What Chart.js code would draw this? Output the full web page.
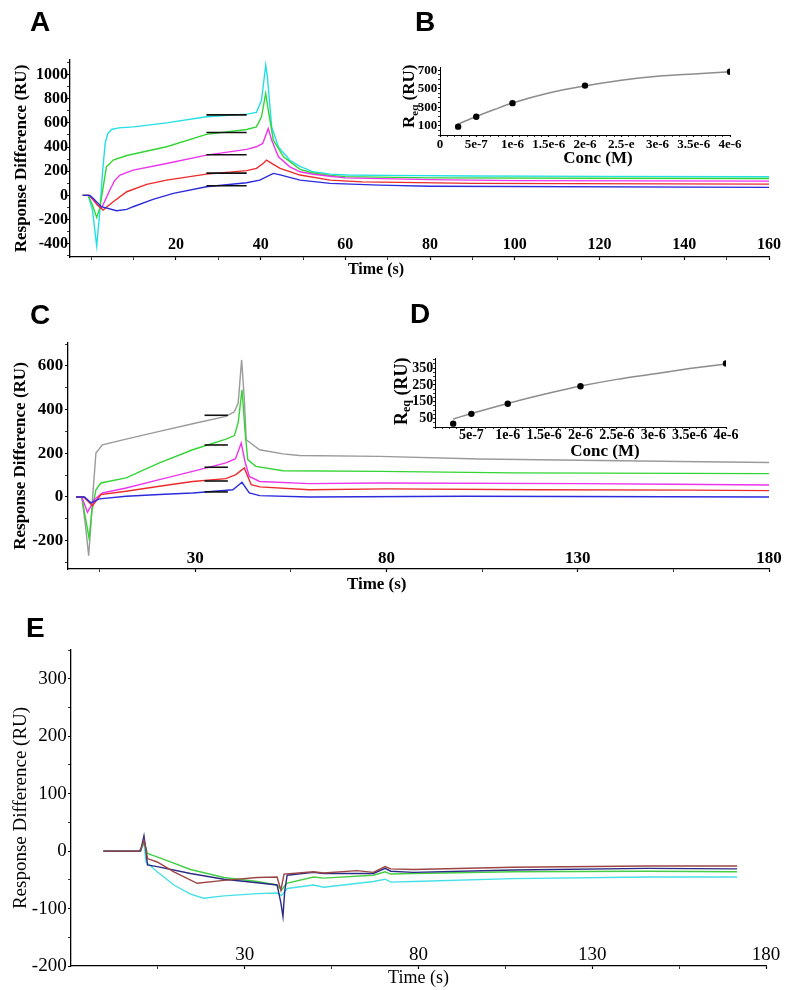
<!DOCTYPE html>
<html>
<head>
<meta charset="utf-8">
<title>SPR sensorgrams and steady-state fits</title>
<script src="https://cdn.jsdelivr.net/npm/chart.js@4.4.1/dist/chart.umd.min.js"></script>
<style>
  html, body { margin:0; padding:0; background:#fff; }
  #fig { position:relative; width:794px; height:990px; overflow:hidden; background:#fff; }
  #fig canvas { position:absolute; }
  .panel { position:absolute; font-family:"Liberation Sans", Arial, sans-serif; font-weight:bold; font-size:28px; line-height:28px; color:#000; }
</style>
</head>
<body>
<div id="fig">
  <canvas id="chartA" width="794" height="290" style="left:0;top:0;width:794px;height:290px"></canvas>
  <canvas id="chartC" width="794" height="310" style="left:0;top:290px;width:794px;height:310px"></canvas>
  <canvas id="chartE" width="794" height="390" style="left:0;top:600px;width:794px;height:390px"></canvas>
  <canvas id="chartB" width="404" height="180" style="left:390px;top:0;width:404px;height:180px"></canvas>
  <canvas id="chartD" width="409" height="130" style="left:385px;top:340px;width:409px;height:130px"></canvas>
  <div class="panel" style="left:30px;top:8px">A</div>
  <div class="panel" style="left:415px;top:8px">B</div>
  <div class="panel" style="left:30px;top:301px">C</div>
  <div class="panel" style="left:410px;top:300px">D</div>
  <div class="panel" style="left:26px;top:614px">E</div>
</div>
<script>
// ================= DATA =================
// Panel A sensorgrams (time s, response RU)
const aCyanT = [-2, -0.7, 0.3, 1.3, 2.0, 2.7, 3.3, 3.9, 4.8, 6.5, 10, 17.8, 27.2, 36.7, 39, 40.2, 41.2, 41.6, 42.6, 44.2, 46.9, 49.3, 52.4, 56.4, 60.3, 70, 90, 120, 160];
const aCyanV = [0, 0, -120, -419, -150, 200, 430, 510, 545, 558, 567, 600, 650, 672, 686, 787, 1077, 980, 567, 400, 290, 240, 195, 176, 168, 165, 160, 157, 154];
const aGreenT = [-2, -0.7, 0.3, 1.3, 2.0, 2.7, 3.6, 5.2, 8.4, 17.8, 27.2, 36.7, 39, 40.2, 41.2, 41.8, 43, 45.4, 49.3, 52.4, 56.4, 60, 80, 120, 160];
const aGreenV = [0, 0, -80, -182, -110, 40, 236, 292, 330, 402, 505, 545, 567, 650, 843, 705, 457, 319, 215, 185, 165, 155, 145, 142, 140];
const aMagentaT = [-2, -0.5, 0.5, 1.5, 2.4, 3.3, 4.4, 5.5, 6.8, 9.9, 17.8, 27.2, 36.7, 39, 40.5, 41.8, 42.6, 44.2, 46.9, 49.3, 52.4, 56.4, 60, 80, 100, 160];
const aMagentaV = [0, 0, -40, -80, -107, -40, 44, 120, 168, 209, 264, 333, 380, 402, 430, 553, 457, 319, 236, 195, 175, 158, 145, 130, 122, 118];
const aRedT = [-2, -0.5, 0.5, 1.5, 2.8, 5.2, 8.4, 13.1, 17.8, 27.2, 36.7, 39, 40.6, 41.4, 42.6, 44.6, 49.3, 56.4, 64, 90, 160];
const aRedV = [0, 0, -30, -80, -121, -53, 30, 91, 126, 176, 205, 223, 264, 292, 264, 223, 168, 126, 112, 99, 93];
const aBlueT = [-2, -0.3, 0.5, 2.4, 6, 8.4, 9.9, 14.6, 19.4, 27.2, 36.7, 39.8, 43, 44.6, 49.3, 56.4, 68, 80, 160];
const aBlueV = [0, 0, -25, -94, -127, -116, -94, -33, 17, 71, 104, 126, 182, 170, 126, 99, 85, 75, 66];
const aFitT = [27.2, 36.7];
const aFitV = [666, 520, 336, 184, 80];
const aXLabels = [20, 40, 60, 80, 100, 120, 140, 160];
const aYLabels = [-400, -200, 0, 200, 400, 600, 800, 1000];

// Panel B steady-state affinity
const bConc = [2.5e-7, 5e-7, 1e-6, 2e-6, 4e-6];
const bReq = [90, 198, 344, 534, 683];
const bFitConc = [2.5e-7, 5e-7, 7.5e-7, 1e-6, 1.5e-6, 2e-6, 2.5e-6, 3e-6, 3.5e-6, 4e-6];
const bFitReq = [118, 200, 275, 345, 453, 530, 592, 635, 660, 683];
const bXTickVals = [0, 5e-7, 1e-6, 1.5e-6, 2e-6, 2.5e-6, 3e-6, 3.5e-6, 4e-6];
const bXTickLabels = ['0', '5e-7', '1e-6', '1.5e-6', '2e-6', '2.5-e', '3e-6', '3.5e-6', '4e-6'];
const bYLabels = [100, 300, 500, 700];

// Panel C sensorgrams
const cGrayT = [-1.2, 0.3, 1.2, 2.1, 2.6, 3.1, 4, 5.7, 11.9, 20.6, 29.3, 38, 40.2, 41.2, 42.1, 42.8, 43.3, 46.8, 52.9, 57.2, 78.2, 104.3, 130.5, 156.7, 180];
const cGrayV = [0, 0, -120, -269, -150, -12, 201, 239, 265, 300, 335, 369, 390, 430, 628, 450, 262, 216, 197, 190, 186, 174, 168, 162, 158];
const cGreenT = [-1.2, 0.3, 1.2, 2.2, 3.0, 4, 5.3, 11.9, 20.6, 29.3, 38, 40.2, 41.2, 42.2, 43, 43.7, 45.8, 52.9, 78.2, 113, 180];
const cGreenV = [0, 0, -90, -188, -60, 33, 64, 87, 156, 216, 265, 281, 340, 491, 300, 171, 140, 120, 117, 110, 107];
const cMagentaT = [-1.2, 0.3, 1.8, 3.6, 5.7, 11.9, 20.6, 29.3, 38, 40.5, 42, 43, 44.1, 46.8, 59.8, 78.2, 130, 155, 180];
const cMagentaV = [0, 0, -70, -12, 18, 41, 79, 117, 156, 175, 247, 160, 94, 71, 61, 64, 61, 58, 55];
const cRedT = [-1.2, 0.8, 3.1, 5.3, 11.9, 20.6, 29.3, 38, 40.6, 42.8, 44.6, 46.8, 59.8, 80, 120, 160, 180];
const cRedV = [0, 0, -40, 11, 26, 49, 71, 84, 102, 133, 56, 46, 33, 37, 33, 31, 29];
const cBlueT = [-1.2, 1, 2.7, 4.9, 11.9, 20.6, 29.3, 39.8, 42.2, 44.1, 46.8, 59.8, 100, 180];
const cBlueV = [0, 0, -27, -9, 3, 11, 18, 33, 67, 18, 6, 0, 3, 0];
const cFitT = [32.4, 38.5];
const cFitV = [374, 238, 136, 73, 23];
const cXTickVals = [5, 30, 55, 80, 105, 130, 155, 180];
const cXLabels = [30, 80, 130, 180];
const cYLabels = [-200, 0, 200, 400, 600];

// Panel D steady-state affinity
const dConc = [2.5e-7, 5e-7, 1e-6, 2e-6, 4e-6];
const dReq = [20, 78, 138, 242, 378];
const dFitConc = [2.5e-7, 5e-7, 1e-6, 1.5e-6, 2e-6, 2.5e-6, 3e-6, 3.5e-6, 4e-6];
const dFitReq = [48, 80, 140, 194, 243, 283, 315, 347, 375];
const dXTickVals = [5e-7, 1e-6, 1.5e-6, 2e-6, 2.5e-6, 3e-6, 3.5e-6, 4e-6];
const dXTickLabels = ['5e-7', '1e-6', '1.5e-6', '2e-6', '2.5e-6', '3e-6', '3.5e-6', '4e-6'];
const dYLabels = [50, 150, 250, 350];

// Panel E sensorgrams (control)
const eBrownT = [-10.7, -0.3, 0.4, 1, 1.5, 2, 4.8, 9.6, 16.3, 24, 33.6, 39.3, 40.4, 41.3, 49.8, 52.7, 62.3, 67, 70.4, 72, 78.5, 107, 145.6, 171.7];
const eBrownV = [0, 0, 8, 19, 5, -13, -19, -36, -56, -51, -46, -45, -68, -40, -36, -38, -34, -37, -27, -31, -32, -28, -26, -26];
const eNavyT = [-10.7, 0, 1, 1.5, 2, 4.8, 14.4, 24, 33.6, 39.3, 40.4, 41.0, 41.5, 42.2, 49.8, 52.7, 67, 70.4, 72, 78.5, 107, 145.6, 171.7];
const eNavyV = [0, 0, 27, 5, -24, -27, -39, -49, -55, -59, -90, -114, -70, -42, -37, -39, -39, -30, -35, -37, -33, -30, -31];
const eGreenT = [-10.7, 0, 0.6, 1.1, 2, 4.8, 14.4, 24, 33.6, 39.3, 40.6, 42, 49.8, 52.7, 67, 70.4, 72, 78.5, 107, 145.6, 171.7];
const eGreenV = [0, 0, 10, 15, -4, -10, -32, -46, -53, -59, -68, -56, -45, -47, -42, -36, -40, -39, -36, -35, -36];
const eCyanT = [-10.7, 0, 1, 1.6, 4.8, 9.6, 14.4, 18.2, 24, 33.6, 39.3, 40.6, 42.2, 49.8, 52.7, 67, 70.4, 72, 78.5, 107, 145.6, 171.7];
const eCyanV = [0, 0, 15, -19, -36, -59, -75, -82, -78, -74, -73, -77, -65, -59, -63, -53, -49, -54, -53, -48, -45, -45];
const eXTickVals = [5, 30, 55, 80, 105, 130, 155, 180];
const eXLabels = [30, 80, 130, 180];
const eYLabels = [-200, -100, 0, 100, 200, 300];

// ================= HELPERS =================
const SERIF = '"Liberation Serif", "Times New Roman", Times, serif';
const C_CYAN = '#22dfe6', C_GREEN = '#35d435', C_MAG = '#ec34ec', C_RED = '#ec2b2b', C_BLUE = '#2b2bdc', C_GRAY = '#9a9a9a';
const E_BROWN = '#9c4545', E_NAVY = '#2c2c86', E_GREEN = '#45cf45', E_CYAN = '#45dfe6';

function steps(from, to, step) {
  const out = [];
  for (let i = 0; from + i * step <= to + step * 1e-6; i++) out.push(+(from + i * step).toPrecision(10));
  return out;
}
function unionTicks(a, b) {
  const all = a.slice();
  b.forEach(v => { if (!all.some(t => Math.abs(t - v) < Math.abs(b[1] - b[0]) * 1e-3)) all.push(v); });
  return all.sort((x, y) => x - y);
}
function pts(t, v) { return t.map((x, i) => ({ x: x, y: v[i] })); }
function line(t, v, color, width) {
  return { data: pts(t, v), borderColor: color, borderWidth: width || 1.4, pointRadius: 0, fill: false, tension: 0 };
}
function fitSegs(t, vals) {
  return vals.map(v => ({ data: [{ x: t[0], y: v }, { x: t[1], y: v }], borderColor: '#111', borderWidth: 1.6, pointRadius: 0, fill: false }));
}
function labelFn(vals, texts, tol) {
  return v => {
    const i = vals.findIndex(t => Math.abs(t - v) < tol);
    return i >= 0 ? (texts ? texts[i] : String(vals[i])) : '';
  };
}
function axis(o, horizontal) {
  const isMajor = v => o.label(v) !== '';
  const cfg = {
    type: 'linear', position: horizontal ? 'bottom' : 'left', min: o.min, max: o.max, bounds: 'data',
    afterBuildTicks: s => { s.ticks = o.ticks.map(v => ({ value: v })); },
    border: { display: true, color: '#000', width: o.bw || 1.3 },
    grid: {
      display: true, drawOnChartArea: false, drawTicks: true, tickLength: o.tl || 3,
      color: '#000', tickColor: '#000',
      tickWidth: ctx => (ctx.tick && isMajor(ctx.tick.value)) ? 1.2 : 0.8
    },
    ticks: {
      autoSkip: false, maxRotation: 0, minRotation: 0, padding: o.pad, mirror: !!o.mirror, color: '#000',
      font: { family: SERIF, size: o.fs, weight: o.fw, lineHeight: 1.2 },
      callback: v => o.label(v)
    },
    title: o.title ? {
      display: true, text: o.title, color: '#000',
      font: { family: SERIF, size: o.tfs, weight: o.fw, lineHeight: 1.2 },
      padding: horizontal ? { top: 0, bottom: o.tpad } : { top: o.tpad, bottom: 0 }
    } : { display: false }
  };
  if (horizontal) cfg.afterFit = s => { s.height = o.size; };
  else cfg.afterFit = s => { s.width = o.size; };
  return cfg;
}
function textPlugin(items) {
  return {
    id: 'freeText',
    afterDraw(chart) {
      const ctx = chart.ctx;
      items.forEach(it => {
        ctx.save();
        ctx.translate(it.x, it.y);
        if (it.rot) ctx.rotate(it.rot);
        ctx.fillStyle = '#000';
        ctx.textAlign = 'left';
        ctx.textBaseline = it.baseline || 'alphabetic';
        const fontOf = p => (p.w || 'bold') + ' ' + p.size + 'px ' + SERIF;
        const widths = it.parts.map(p => { ctx.font = fontOf(p); return ctx.measureText(p.t).width; });
        let x = it.center ? -widths.reduce((a, b) => a + b, 0) / 2 : 0;
        it.parts.forEach((p, i) => { ctx.font = fontOf(p); ctx.fillText(p.t, x, p.dy || 0); x += widths[i]; });
        ctx.restore();
      });
    }
  };
}
function makeChart(id, datasets, scales, padding, plugins) {
  return new Chart(document.getElementById(id), {
    type: 'line',
    data: { datasets: datasets },
    options: {
      responsive: false, maintainAspectRatio: false, animation: false,
      layout: { padding: padding },
      plugins: { legend: { display: false }, tooltip: { enabled: false } },
      elements: { line: { tension: 0 }, point: { radius: 0 } },
      scales: scales
    },
    plugins: plugins || []
  });
}

// ================= PANEL A =================
makeChart('chartA',
  [...fitSegs(aFitT, aFitV),
   line(aBlueT, aBlueV, C_BLUE), line(aRedT, aRedV, C_RED), line(aMagentaT, aMagentaV, C_MAG),
   line(aGreenT, aGreenV, C_GREEN), line(aCyanT, aCyanV, C_CYAN)],
  {
    x: axis({ min: -5, max: 160, ticks: steps(0, 160, 10), label: labelFn(aXLabels, null, 1e-6), size: 33, pad: 2.1, mirror: true, fs: 16, fw: 'bold' }, true),
    y: axis({ min: -510, max: 1120, ticks: steps(-500, 1100, 100), label: labelFn(aYLabels, null, 1e-6), size: 70, pad: -1, fs: 16, fw: 'bold',
              title: 'Response Difference (RU)', tfs: 17, tpad: 11.5 }, false)
  },
  { left: 0, top: 60, right: 25, bottom: 0 },
  [textPlugin([{ x: 376, y: 270, center: true, baseline: 'middle', parts: [{ t: 'Time (s)', size: 16 }] }])]
);

// ================= PANEL B =================
makeChart('chartB',
  [{ data: pts(bConc, bReq), showLine: false, pointRadius: 3.2, pointBackgroundColor: '#000', pointBorderColor: '#000', pointBorderWidth: 0 },
   { data: pts(bFitConc, bFitReq), borderColor: '#8c8c8c', borderWidth: 1.5, pointRadius: 0, fill: false, cubicInterpolationMode: 'monotone' }],
  {
    x: axis({ min: 0, max: 4e-6, ticks: unionTicks(bXTickVals, steps(0, 4e-6, 1e-7)), label: labelFn(bXTickVals, bXTickLabels, 1e-12),
              size: 45, pad: 0.2, fs: 13, fw: 'bold', tl: 2, bw: 1 }, true),
    y: axis({ min: 0, max: 735, ticks: steps(0, 700, 50), label: labelFn(bYLabels, null, 1e-6), size: 50, pad: 0.7, fs: 13, fw: 'bold', tl: 2, bw: 1 }, false)
  },
  { left: 0, top: 67, right: 64, bottom: 0 },
  [textPlugin([
    { x: 24, y: 128, rot: -Math.PI / 2, parts: [{ t: 'R', size: 17 }, { t: 'eq', size: 11, dy: 3.5 }, { t: ' (RU)', size: 17 }] },
    { x: 208, y: 159, center: true, baseline: 'middle', parts: [{ t: 'Conc (M)', size: 17 }] }
  ])]
);

// ================= PANEL C =================
makeChart('chartC',
  [...fitSegs(cFitT, cFitV),
   line(cBlueT, cBlueV, C_BLUE), line(cRedT, cRedV, C_RED), line(cMagentaT, cMagentaV, C_MAG),
   line(cGreenT, cGreenV, C_GREEN), line(cGrayT, cGrayV, C_GRAY)],
  {
    x: axis({ min: -3.3, max: 180, ticks: cXTickVals, label: labelFn(cXLabels, null, 1e-6), size: 31, pad: 0.1, mirror: true, fs: 17, fw: 'bold' }, true),
    y: axis({ min: -330, max: 705, ticks: steps(-300, 700, 100), label: labelFn(cYLabels, null, 1e-6), size: 68, pad: 1.7, fs: 17, fw: 'bold',
              title: 'Response Difference (RU)', tfs: 17, tpad: 10.3 }, false)
  },
  { left: 0, top: 53, right: 25, bottom: 0 },
  [textPlugin([{ x: 376.7, y: 295, center: true, baseline: 'middle', parts: [{ t: 'Time (s)', size: 17 }] }])]
);

// ================= PANEL D =================
makeChart('chartD',
  [{ data: pts(dConc, dReq), showLine: false, pointRadius: 3.2, pointBackgroundColor: '#000', pointBorderColor: '#000', pointBorderWidth: 0 },
   { data: pts(dFitConc, dFitReq), borderColor: '#8c8c8c', borderWidth: 1.5, pointRadius: 0, fill: false, cubicInterpolationMode: 'monotone' }],
  {
    x: axis({ min: 0, max: 4e-6, ticks: unionTicks(dXTickVals, steps(0, 4e-6, 1e-7)), label: labelFn(dXTickVals, dXTickLabels, 1e-12),
              size: 43, pad: -2.1, fs: 14, fw: 'bold', tl: 2, bw: 1 }, true),
    y: axis({ min: 0, max: 410, ticks: steps(0, 400, 25), label: labelFn(dYLabels, null, 1e-6), size: 50, pad: -0.3, fs: 14, fw: 'bold', tl: 2, bw: 1 }, false)
  },
  { left: 0, top: 18, right: 68, bottom: 0 },
  [textPlugin([
    { x: 21.5, y: 85, rot: -Math.PI / 2, parts: [{ t: 'R', size: 18 }, { t: 'eq', size: 12, dy: 3.5 }, { t: ' (RU)', size: 18 }] },
    { x: 220, y: 111.7, center: true, baseline: 'middle', parts: [{ t: 'Conc (M)', size: 17 }] }
  ])]
);

// ================= PANEL E =================
makeChart('chartE',
  [line(eBrownT, eBrownV, E_BROWN), line(eNavyT, eNavyV, E_NAVY), line(eGreenT, eGreenV, E_GREEN), line(eCyanT, eCyanV, E_CYAN)],
  {
    x: axis({ min: -20, max: 180, ticks: eXTickVals, label: labelFn(eXLabels, null, 1e-6), size: 24, pad: 0, mirror: true, fs: 19, fw: 'normal',
              title: 'Time (s)', tfs: 18, tpad: 0.7 }, true),
    y: axis({ min: -200, max: 350, ticks: steps(-200, 350, 50), label: labelFn(eYLabels, null, 1e-6), size: 71, pad: 1.3, fs: 19, fw: 'normal',
              title: 'Response Difference (RU)', tfs: 19, tpad: 9.4 }, false)
  },
  { left: 0, top: 50, right: 28, bottom: 0 }
);
</script>
</body>
</html>
